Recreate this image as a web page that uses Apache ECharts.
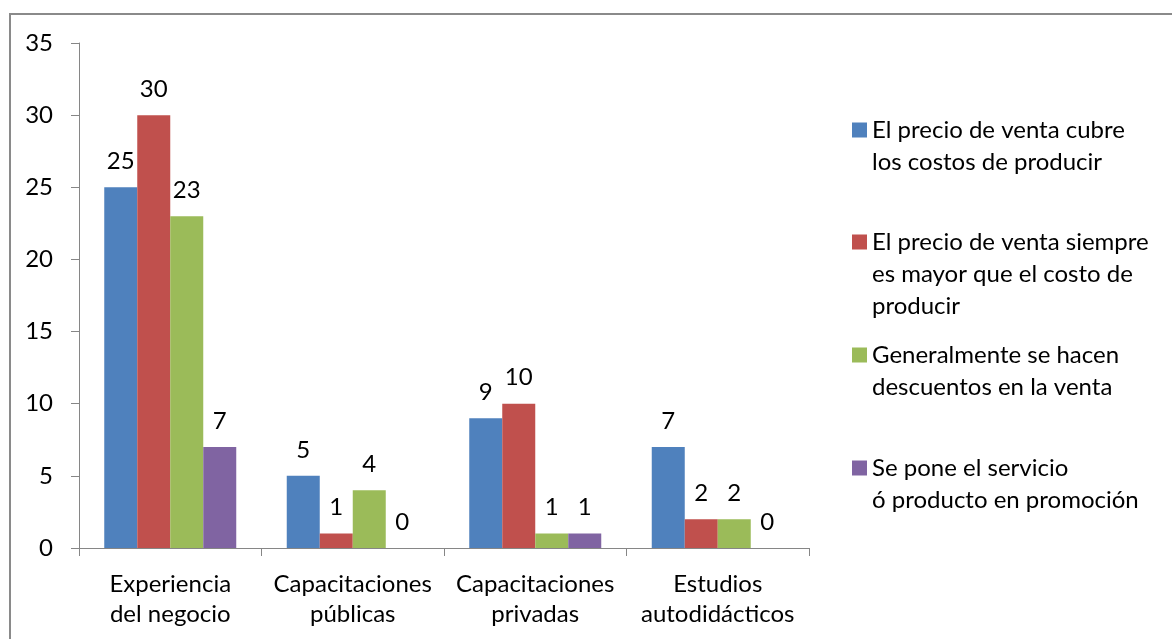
<!DOCTYPE html>
<html>
<head>
<meta charset="utf-8">
<script src="https://cdn.jsdelivr.net/npm/echarts@6/dist/echarts.min.js"></script>
<style>
  html, body { margin: 0; padding: 0; background: #fff; }
  #chart { width: 1172px; height: 639px; }
</style>
</head>
<body>
<div id="chart"></div>
<script>
  // categorias del eje x
  const categories = ['Experiencia\ndel negocio', 'Capacitaciones\npúblicas', 'Capacitaciones\nprivadas', 'Estudios\nautodidácticos'];
  const seriesNames = [
    'El precio de venta cubre\nlos costos de producir',
    'El precio de venta siempre\nes mayor que el costo de\nproducir',
    'Generalmente se hacen\ndescuentos en la venta',
    'Se pone el servicio\nó producto en promoción'
  ];
  const cubre = [25, 5, 9, 7];
  const mayor = [30, 1, 10, 2];
  const descuentos = [23, 4, 1, 2];
  const promocion = [7, 0, 1, 0];
  const yTicks = [0, 5, 10, 15, 20, 25, 30, 35];

  const colors = ['#4f81bd', '#c0504d', '#9bbb59', '#8064a2'];
  const values = [cubre, mayor, descuentos, promocion];
  const font = 'Lato, "Open Sans", sans-serif';
  const fs = 24;
  const legendIconY = [130, 242, 355, 468]; // centro del cuadrito
  const lineH = 32;

  const chart = echarts.init(document.getElementById('chart'));

  // una leyenda por serie, el cuadrito alineado con la primera linea
  const legends = seriesNames.map(function (name, i) {
    const n = name.split('\n').length;
    const h = 15 + (n - 1) * lineH;
    return {
      data: [name],
      left: 852,
      top: legendIconY[i] - 16,
      orient: 'vertical',
      itemWidth: 15,
      itemHeight: h,
      icon: 'path://M0,0L15,0L15,15L0,15Z M0,' + h + 'L0,' + h,
      selectedMode: false,
      padding: 0,
      textStyle: {
        fontFamily: font,
        fontSize: fs,
        color: '#000',
        lineHeight: lineH
      }
    };
  });

  const option = {
    animation: false,
    backgroundColor: '#fff',
    color: colors,
    textStyle: { fontFamily: font },
    graphic: [{
      type: 'rect',
      shape: { x: 10, y: 14, width: 1200, height: 700 },
      style: { fill: 'none', stroke: '#8a8a8a', lineWidth: 2 },
      silent: true
    }],
    legend: legends,
    grid: { left: 79, top: 43, right: 363, bottom: 91 },
    xAxis: {
      type: 'category',
      data: categories,
      axisLine: { lineStyle: { color: '#868686', width: 1 } },
      axisTick: { show: true, length: 8, lineStyle: { color: '#868686' } },
      axisLabel: {
        color: '#000',
        fontSize: fs,
        fontFamily: font,
        lineHeight: 30,
        margin: 21,
        interval: 0
      }
    },
    yAxis: {
      type: 'value',
      min: yTicks[0],
      max: yTicks[yTicks.length - 1],
      interval: 5,
      axisLine: { show: true, lineStyle: { color: '#868686', width: 1 } },
      axisTick: { show: true, length: 8, lineStyle: { color: '#868686' } },
      splitLine: { show: false },
      axisLabel: {
        color: '#000',
        fontSize: fs,
        fontFamily: font,
        margin: 26
      }
    },
    series: values.map(function (v, i) {
      return {
        name: seriesNames[i],
        type: 'bar',
        data: v,
        barWidth: 33,
        barGap: '0%',
        itemStyle: { color: colors[i] },
        label: {
          show: true,
          position: 'top',
          distance: 14,
          color: '#000',
          fontSize: fs,
          fontFamily: font
        }
      };
    })
  };

  chart.setOption(option);
</script>
</body>
</html>
